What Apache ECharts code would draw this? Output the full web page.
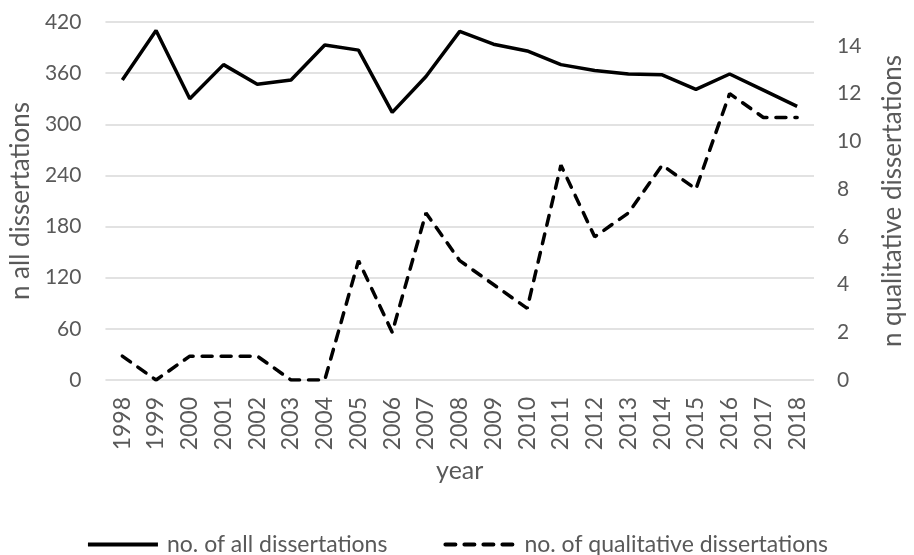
<!DOCTYPE html>
<html>
<head>
<meta charset="utf-8">
<script src="https://cdn.jsdelivr.net/npm/echarts@6/dist/echarts.min.js"></script>
<style>
  html, body { margin: 0; padding: 0; background: #fff; }
  #chart { width: 914px; height: 555px; }
</style>
</head>
<body>
<div id="chart"></div>
<script>
  var years = ['1998', '1999', '2000', '2001', '2002', '2003', '2004', '2005', '2006', '2007',
    '2008', '2009', '2010', '2011', '2012', '2013', '2014', '2015', '2016', '2017', '2018'];
  var allDiss = [352, 410, 330, 370, 347, 352, 393, 387, 314, 356,
    409, 394, 386, 370, 363, 359, 358, 341, 359, 340, 321];
  var qualDiss = [1, 0, 1, 1, 1, 0, 0, 5, 2, 7,
    5, 4, 3, 9, 6, 7, 9, 8, 12, 11, 11];
  var leftTicks = [0, 60, 120, 180, 240, 300, 360, 420];
  var rightTicks = [0, 2, 4, 6, 8, 10, 12, 14];

  var grey = '#595959';
  var font = 'Lato, "Open Sans", sans-serif';

  var chart = echarts.init(document.getElementById('chart'));
  var option = {
    animation: false,
    textStyle: { fontFamily: font },
    grid: { left: 104, right: 84, top: 22, bottom: 175 },
    legend: {
      top: 528,
      left: 'center',
      itemWidth: 70,
      itemHeight: 12,
      itemGap: 56,
      itemStyle: { opacity: 0 },
      lineStyle: { width: 4 },
      textStyle: { color: grey, fontSize: 23, fontFamily: font, padding: [0, 0, 0, 4] },
      data: ['no. of all dissertations', 'no. of qualitative dissertations']
    },
    xAxis: {
      type: 'category',
      data: years,
      name: 'year',
      nameLocation: 'middle',
      nameGap: 78,
      nameTextStyle: { color: grey, fontSize: 25, fontFamily: font },
      axisLine: { show: false },
      axisTick: { show: false },
      axisLabel: {
        rotate: 90,
        interval: 0,
        margin: 17,
        color: grey,
        fontSize: 23,
        fontFamily: font
      }
    },
    yAxis: [{
      type: 'value',
      min: leftTicks[0],
      max: leftTicks[leftTicks.length - 1],
      interval: 60,
      name: 'n all dissertations',
      nameLocation: 'middle',
      nameGap: 66,
      nameRotate: 90,
      nameTextStyle: { color: grey, fontSize: 26, fontFamily: font },
      axisLine: { show: false },
      axisTick: { show: false },
      axisLabel: { color: grey, fontSize: 21, margin: 24 },
      splitLine: { lineStyle: { color: '#d9d9d9', width: 1.5 } }
    }, {
      type: 'value',
      min: rightTicks[0],
      max: 15,
      interval: 2,
      name: 'n qualitative dissertations',
      nameLocation: 'middle',
      nameGap: 66,
      nameRotate: 90,
      nameTextStyle: { color: grey, fontSize: 26, fontFamily: font },
      axisLine: { show: false },
      axisTick: { show: false },
      axisLabel: { color: grey, fontSize: 21, margin: 23, showMaxLabel: false },
      splitLine: { show: false }
    }],
    series: [{
      name: 'no. of all dissertations',
      type: 'line',
      yAxisIndex: 0,
      data: allDiss,
      symbol: 'none',
      lineStyle: { color: '#000', width: 3.5 },
      itemStyle: { color: '#000' }
    }, {
      name: 'no. of qualitative dissertations',
      type: 'line',
      yAxisIndex: 1,
      data: qualDiss,
      symbol: 'none',
      lineStyle: { color: '#000', width: 3.5, type: [10, 9], cap: 'round' },
      itemStyle: { color: '#000' }
    }]
  };
  chart.setOption(option);
</script>
</body>
</html>
